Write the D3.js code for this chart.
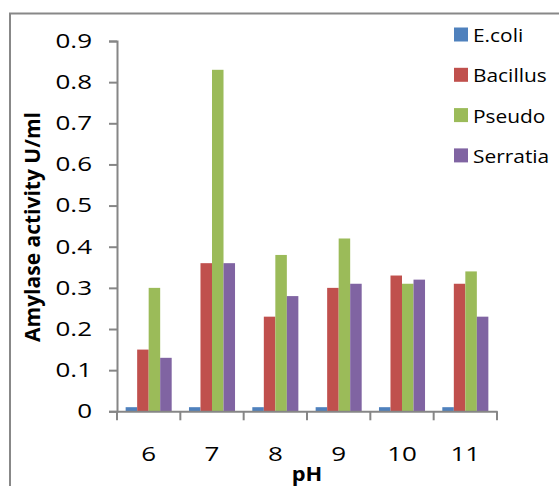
<!DOCTYPE html>
<html>
<head>
<meta charset="utf-8">
<script src="https://cdn.jsdelivr.net/npm/d3@7"></script>
<style>
  body { margin: 0; background: #fff; }
  svg { display: block; }
  text { font-family: "Open Sans", sans-serif; fill: #000; }
</style>
</head>
<body>
<svg id="chart" width="559" height="486"></svg>
<script>
// pH values on the x axis
let categories = ["6", "7", "8", "9", "10", "11"];
let seriesNames = ["E.coli", "Bacillus", "Pseudo", "Serratia"];
let colors = ["#4f81bd", "#c0504d", "#9bbb59", "#8064a2"];

// amylase activity (U/ml)
let ecoli    = [0.01, 0.01, 0.01, 0.01, 0.01, 0.01];
let bacillus = [0.15, 0.36, 0.23, 0.30, 0.33, 0.31];
let pseudo   = [0.30, 0.83, 0.38, 0.42, 0.31, 0.34];
let serratia = [0.13, 0.36, 0.28, 0.31, 0.32, 0.23];
let yTicks = [0, 0.1, 0.2, 0.3, 0.4, 0.5, 0.6, 0.7, 0.8, 0.9];

let series = [ecoli, bacillus, pseudo, serratia];

// the original digits are drawn wider than Open Sans
let stretch = 1.3;

let svg = d3.select("#chart");

// outer chart border (cut off at the right and bottom)
svg.append("rect")
  .attr("x", 10).attr("y", 13.5)
  .attr("width", 600).attr("height", 500)
  .attr("fill", "none")
  .attr("stroke", "#888").attr("stroke-width", 2);

let x = d3.scaleBand()
  .domain(categories)
  .range([117, 497])
  .paddingInner(0.273)
  .paddingOuter(0.1365);

let x1 = d3.scaleBand()
  .domain(seriesNames)
  .range([0, x.bandwidth()]);

let y = d3.scaleLinear()
  .domain([0, 0.9])
  .range([411.3, 41]);

// bars
let groups = svg.append("g").selectAll("g")
  .data(categories)
  .join("g")
  .attr("transform", d => "translate(" + x(d) + ",0)");

groups.selectAll("rect")
  .data((d, i) => seriesNames.map((s, j) => ({s: s, j: j, v: series[j][i]})))
  .join("rect")
  .attr("x", d => x1(d.s))
  .attr("width", x1.bandwidth())
  .attr("y", d => y(d.v))
  .attr("height", d => y(0) - y(d.v))
  .attr("fill", d => colors[d.j]);

// y axis
let yAxis = svg.append("g")
  .attr("transform", "translate(117,0)")
  .call(d3.axisLeft(y).tickValues(yTicks).tickSize(8).tickPadding(17)
    .tickFormat(d => d === 0 ? "0" : d3.format(".1f")(d)));
yAxis.select(".domain").attr("stroke", "#868686").attr("stroke-width", 2);
yAxis.selectAll(".tick line").attr("stroke", "#868686").attr("stroke-width", 2);
yAxis.selectAll("text")
  .style("font-size", "20px")
  .attr("x", 0)
  .attr("transform", "translate(-25,0) scale(" + stretch + ",1)");

// x axis: labels at centres, ticks at category boundaries
let step = x.step();
let xAxis = svg.append("g")
  .attr("transform", "translate(0,411.3)")
  .call(d3.axisBottom(x).tickSize(0).tickPadding(36));
xAxis.select(".domain").attr("stroke", "#868686").attr("stroke-width", 2);
xAxis.selectAll("text")
  .style("font-size", "20px")
  .attr("transform", "scale(" + stretch + ",1)");

let bounds = categories.map(d => x(d) - x.paddingOuter() * step);
bounds.push(x.range()[1]);
xAxis.selectAll(".bound")
  .data(bounds)
  .join("line")
  .attr("class", "bound")
  .attr("x1", d => d).attr("x2", d => d)
  .attr("y1", 0).attr("y2", 9)
  .attr("stroke", "#868686").attr("stroke-width", 2);

// axis titles
svg.append("text")
  .attr("transform", "translate(40,227) rotate(-90)")
  .attr("text-anchor", "middle")
  .style("font-size", "21px").style("font-weight", "bold")
  .text("Amylase activity U/ml");

svg.append("text")
  .attr("transform", "translate(307,480.5) scale(1.15,1)")
  .attr("text-anchor", "middle")
  .style("font-size", "19px").style("font-weight", "bold")
  .text("pH");

// legend
let legend = svg.append("g").selectAll("g")
  .data(seriesNames)
  .join("g")
  .attr("transform", (d, i) => "translate(454," + (27.5 + i * 40.3) + ")");

legend.append("rect")
  .attr("width", 14).attr("height", 14)
  .attr("fill", (d, i) => colors[i]);

legend.append("text")
  .attr("transform", "translate(19,14.5) scale(1.1,1)")
  .style("font-size", "19px")
  .text(d => d);
</script>
</body>
</html>
